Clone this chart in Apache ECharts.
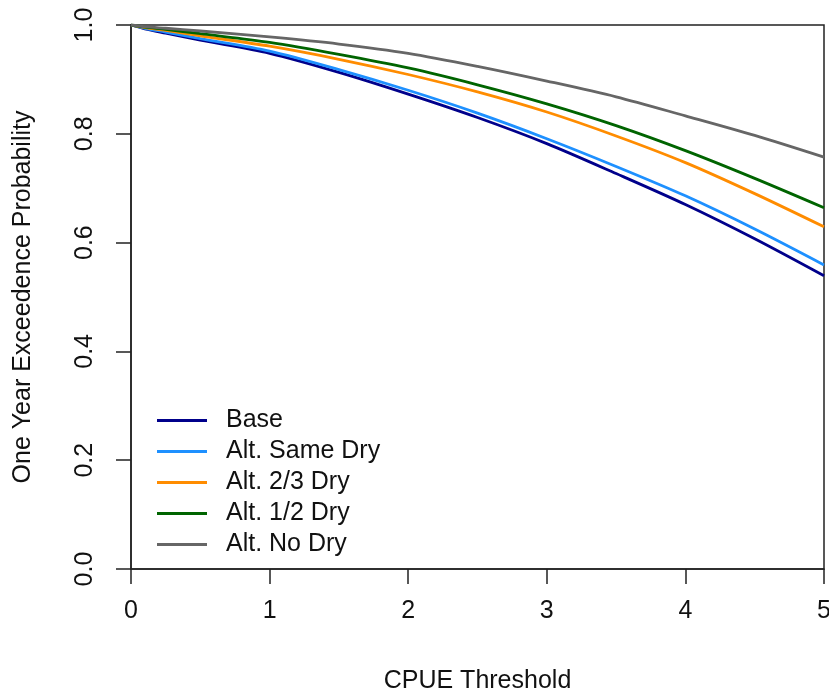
<!DOCTYPE html>
<html>
<head>
<meta charset="utf-8">
<script src="https://cdn.jsdelivr.net/npm/echarts@6/dist/echarts.min.js"></script>
<style>html,body{margin:0;padding:0;background:#fff;}#chart{width:829px;height:692px;}</style>
</head>
<body>
<div id="chart"></div>
<script>
var thresholds = [0, 0.1, 0.25, 0.5, 1, 1.5, 2, 2.5, 3, 3.5, 4, 4.5, 5];
var seriesNames = ['Base', 'Alt. Same Dry', 'Alt. 2/3 Dry', 'Alt. 1/2 Dry', 'Alt. No Dry'];
var base     = [1.000, 0.993, 0.985, 0.972, 0.948, 0.913, 0.873, 0.830, 0.782, 0.727, 0.670, 0.607, 0.539];
var sameDry  = [1.000, 0.994, 0.987, 0.975, 0.952, 0.918, 0.880, 0.838, 0.791, 0.740, 0.686, 0.625, 0.559];
var twoThird = [1.000, 0.995, 0.990, 0.980, 0.961, 0.937, 0.909, 0.877, 0.840, 0.796, 0.747, 0.690, 0.629];
var half     = [1.000, 0.996, 0.992, 0.984, 0.968, 0.946, 0.921, 0.890, 0.855, 0.815, 0.769, 0.718, 0.664];
var noDry    = [1.000, 0.997, 0.994, 0.989, 0.978, 0.965, 0.948, 0.924, 0.897, 0.868, 0.833, 0.797, 0.757];
var xTicks = [0, 1, 2, 3, 4, 5];
var yTicks = [0.0, 0.2, 0.4, 0.6, 0.8, 1.0];

var colors = ['#00008B', '#1E90FF', '#FF8C00', '#006400', '#666666'];
var allData = [base, sameDry, twoThird, half, noDry];
var font = '"Liberation Sans", Arial, sans-serif';

function pairs(ys) { return thresholds.map(function (x, i) { return [x, ys[i]]; }); }

var chart = echarts.init(document.getElementById('chart'), null, { renderer: 'canvas' });
chart.setOption({
  backgroundColor: '#ffffff',
  animation: false,
  grid: { left: 131, right: 5, top: 25, bottom: 123, show: true, borderColor: '#222', borderWidth: 1.5,
    backgroundColor: 'transparent', outerBoundsMode: 'none', containLabel: false },
  legend: {
    orient: 'vertical', left: 152, top: 403,
    itemWidth: 50, itemHeight: 3, itemGap: 6, icon: 'rect',
    data: seriesNames,
    textStyle: { fontFamily: font, fontSize: 25, color: '#111', lineHeight: 25, padding: [0, 0, 0, 14] }
  },
  xAxis: {
    type: 'value', min: xTicks[0], max: xTicks[xTicks.length - 1], interval: 1,
    name: 'CPUE Threshold', nameLocation: 'middle', nameGap: 100,
    nameTextStyle: { fontFamily: font, fontSize: 25, color: '#111' },
    axisLine: { show: true, lineStyle: { color: '#222', width: 1.5 } },
    axisTick: { show: true, length: 15, lineStyle: { color: '#222', width: 1.5 } },
    axisLabel: { fontFamily: font, fontSize: 25, color: '#111', margin: 30 },
    splitLine: { show: false }
  },
  yAxis: {
    type: 'value', min: yTicks[0], max: yTicks[yTicks.length - 1], interval: 0.2,
    name: 'One Year Exceedence Probability', nameLocation: 'middle', nameGap: 95, nameRotate: 90,
    nameTextStyle: { fontFamily: font, fontSize: 25, color: '#111' },
    axisLine: { show: true, lineStyle: { color: '#222', width: 1.5 } },
    axisTick: { show: true, length: 15, lineStyle: { color: '#222', width: 1.5 } },
    axisLabel: { fontFamily: font, fontSize: 25, color: '#111', margin: 33, rotate: 90,
      formatter: function (v) { return v.toFixed(1); } },
    splitLine: { show: false }
  },
  series: seriesNames.map(function (n, i) {
    return {
      name: n, type: 'line', data: pairs(allData[i]), smooth: 0.3, showSymbol: false,
      symbol: 'none', color: colors[i],
      lineStyle: { color: colors[i], width: 2.8 }, z: 2 + i
    };
  })
});
</script>
</body>
</html>
